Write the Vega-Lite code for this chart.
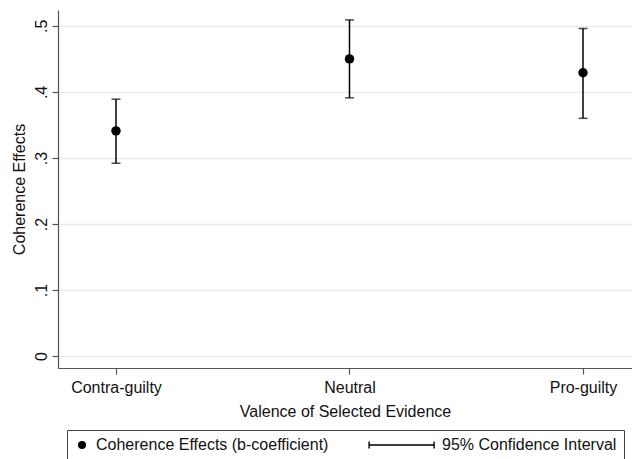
{
  "$schema": "https://vega.github.io/schema/vega-lite/v6.json",
  "width": 574,
  "height": 358,
  "autosize": {"type": "none"},
  "padding": {"left": 58, "top": 10, "right": 0, "bottom": 91},
  "background": "white",
  "config": {
    "view": {"stroke": null},
    "font": "Liberation Sans",
    "axis": {"labelFont": "Liberation Sans", "titleFont": "Liberation Sans", "labelColor": "#111", "titleColor": "#111", "titleFontWeight": "normal", "domainColor": "#555", "tickColor": "#555", "domainWidth": 1.2, "tickWidth": 1.2}
  },
  "data": {
    "values": [
      {"valence": "Contra-guilty", "b": 0.341, "lo": 0.292, "hi": 0.389, "series": "Coherence Effects (b-coefficient)"},
      {"valence": "Neutral", "b": 0.450, "lo": 0.391, "hi": 0.509, "series": "Coherence Effects (b-coefficient)"},
      {"valence": "Pro-guilty", "b": 0.429, "lo": 0.360, "hi": 0.496, "series": "Coherence Effects (b-coefficient)"}
    ]
  },
  "encoding": {
    "x": {
      "field": "valence", "type": "nominal", "sort": ["Contra-guilty", "Neutral", "Pro-guilty"],
      "scale": {"type": "point", "padding": 0.2291, "align": 0.542},
      "axis": {"title": "Valence of Selected Evidence", "titleFontSize": 16, "titlePadding": 8, "labelFontSize": 16, "labelAngle": 0, "tickSize": 6, "labelPadding": 5, "grid": false}
    }
  },
  "layer": [
    {
      "mark": {"type": "rule", "color": "black", "strokeWidth": 1.5},
      "encoding": {
        "y": {"field": "lo", "type": "quantitative", "scale": {"domain": [-0.018, 0.524], "nice": false, "zero": false},
          "axis": {"title": "Coherence Effects", "titleFontSize": 16, "titlePadding": 6, "labelFontSize": 16, "values": [0, 0.1, 0.2, 0.3, 0.4, 0.5], "labelAngle": -90, "labelAlign": "center", "labelBaseline": "bottom", "labelPadding": 3, "tickSize": 6, "grid": true, "gridColor": "#ebebeb", "gridWidth": 1.5,
            "labelExpr": "datum.value == 0 ? '0' : replace(format(datum.value, '.1f'), '0.', '.')"}},
        "y2": {"field": "hi"}
      }
    },
    {
      "mark": {"type": "tick", "color": "black", "size": 9, "thickness": 1.5, "orient": "horizontal"},
      "encoding": {"y": {"field": "lo", "type": "quantitative"}}
    },
    {
      "mark": {"type": "tick", "color": "black", "size": 9, "thickness": 1.5, "orient": "horizontal"},
      "encoding": {"y": {"field": "hi", "type": "quantitative"}}
    },
    {
      "mark": {"type": "point", "filled": true, "color": "black", "opacity": 1, "size": 90},
      "encoding": {
        "y": {"field": "b", "type": "quantitative"},
        "shape": {
          "field": "series", "type": "nominal",
          "scale": {"domain": ["Coherence Effects (b-coefficient)", "95% Confidence Interval"], "range": ["circle", "M-14.75,-0.16L1.5,-0.16L1.5,0.16L-14.75,0.16Z M-14.9,-0.9L-14.55,-0.9L-14.55,0.9L-14.9,0.9Z M1.35,-0.9L1.7,-0.9L1.7,0.9L1.35,0.9Z"]},
          "legend": {
            "title": null, "orient": "none", "legendX": 9, "legendY": 420, "direction": "horizontal",
            "strokeColor": "#444", "padding": 7, "labelFontSize": 16, "labelColor": "#111", "labelFont": "Liberation Sans", "labelLimit": 400,
            "symbolSize": 64, "labelOffset": 6, "columnPadding": 36,
            "symbolFillColor": "black", "symbolOpacity": 1,
            "encode": {"symbols": {"update": {"fill": {"value": "black"}, "fillOpacity": {"value": 1}, "opacity": {"value": 1}}}}
          }
        }
      }
    }
  ]
}
